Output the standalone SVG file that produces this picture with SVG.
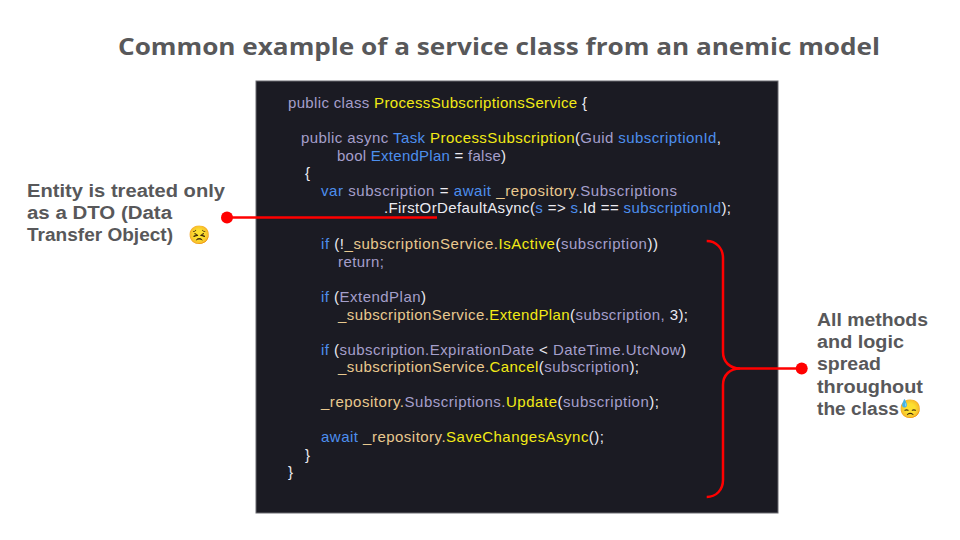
<svg xmlns="http://www.w3.org/2000/svg" width="960" height="540" viewBox="0 0 960 540">
<style>
.title{font-family:"Open Sans","Liberation Sans",sans-serif;font-weight:700;font-size:24px;fill:#58585a}
.note{font-family:"Liberation Sans",Arial,sans-serif;font-weight:700;font-size:18px;fill:#58585a}
.emo{font-family:"Noto Color Emoji","Liberation Sans",sans-serif;font-size:18px}
.code{font-family:"Liberation Sans",Arial,sans-serif;font-size:15px;fill:#ecebf2}
.k{fill:#a59fcb}.y{fill:#f2ea16}.b{fill:#4d8fee}.t{fill:#e9c98f}.w{fill:#ecebf2}
.red{stroke:#ff0000;stroke-width:2.5;fill:none}
</style>
<rect width="960" height="540" fill="#ffffff"/>
<text class="title" x="499" y="55" text-anchor="middle" textLength="762" lengthAdjust="spacingAndGlyphs">Common example of a service class from an anemic model</text>
<g id="code-panel">
<rect x="256" y="81" width="522" height="432" fill="#1b1b23" stroke="#6a6a70" stroke-width="1"/>
<g class="code">
<text x="288" y="108" textLength="299" lengthAdjust="spacing"><tspan class="k">public class </tspan><tspan class="y">ProcessSubscriptionsService</tspan><tspan> {</tspan></text>
<text x="301" y="143" textLength="420" lengthAdjust="spacing"><tspan class="k">public async </tspan><tspan class="b">Task</tspan> <tspan class="y">ProcessSubscription</tspan>(<tspan class="k">Guid </tspan><tspan class="b">subscriptionId</tspan>,</text>
<text x="337" y="161" textLength="169" lengthAdjust="spacing"><tspan class="k">bool </tspan><tspan class="b">ExtendPlan</tspan> = <tspan class="k">false</tspan>)</text>
<text x="305" y="178">{</text>
<text x="321" y="196" textLength="356" lengthAdjust="spacing"><tspan class="b">var</tspan><tspan class="k"> subscription </tspan>= <tspan class="b">await</tspan><tspan class="t"> _repository</tspan><tspan class="k">.Subscriptions</tspan></text>
<text x="384" y="213" textLength="347" lengthAdjust="spacing">.FirstOrDefaultAsync(<tspan class="b">s</tspan> =&gt; <tspan class="b">s</tspan>.Id == <tspan class="b">subscriptionId</tspan>);</text>
<text x="321" y="249" textLength="337" lengthAdjust="spacing"><tspan class="b">if</tspan> (!<tspan class="t">_subscriptionService.</tspan><tspan class="y">IsActive</tspan>(<tspan class="k">subscription</tspan>))</text>
<text x="338" y="267" textLength="46" lengthAdjust="spacing"><tspan class="k">return;</tspan></text>
<text x="321" y="302" textLength="105" lengthAdjust="spacing"><tspan class="b">if</tspan> (<tspan class="k">ExtendPlan</tspan>)</text>
<text x="338" y="319.5" textLength="350" lengthAdjust="spacing"><tspan class="t">_subscriptionService.</tspan><tspan class="y">ExtendPlan</tspan>(<tspan class="k">subscription, </tspan>3);</text>
<text x="321" y="355" textLength="365" lengthAdjust="spacing"><tspan class="b">if</tspan> (<tspan class="k">subscription.ExpirationDate</tspan> &lt; <tspan class="k">DateTime.UtcNow</tspan>)</text>
<text x="338" y="372" textLength="301" lengthAdjust="spacing"><tspan class="t">_subscriptionService.</tspan><tspan class="y">Cancel</tspan>(<tspan class="k">subscription</tspan>);</text>
<text x="321" y="407" textLength="338" lengthAdjust="spacing"><tspan class="t">_repository.</tspan><tspan class="k">Subscriptions.</tspan><tspan class="y">Update</tspan>(<tspan class="k">subscription</tspan>);</text>
<text x="321" y="442" textLength="283" lengthAdjust="spacing"><tspan class="b">await</tspan><tspan class="t"> _repository.</tspan><tspan class="y">SaveChangesAsync</tspan>();</text>
<text x="305" y="460">}</text>
<text x="288" y="477">}</text>
</g>
</g>
<g id="note-dto">
<text class="note" x="27" y="197" textLength="198" lengthAdjust="spacingAndGlyphs">Entity is treated only</text>
<text class="note" x="27" y="219" textLength="145" lengthAdjust="spacingAndGlyphs">as a DTO (Data</text>
<text class="note" x="27" y="241" textLength="146" lengthAdjust="spacingAndGlyphs">Transfer Object)</text>
<text class="emo" x="188" y="241">😣</text>
</g>
<g id="note-logic">
<text class="note" x="817" y="326" textLength="111" lengthAdjust="spacingAndGlyphs">All methods</text>
<text class="note" x="817" y="348" textLength="87" lengthAdjust="spacingAndGlyphs">and logic</text>
<text class="note" x="817" y="370" textLength="64" lengthAdjust="spacingAndGlyphs">spread</text>
<text class="note" x="817" y="393" textLength="106" lengthAdjust="spacingAndGlyphs">throughout</text>
<text class="note" x="817" y="415" textLength="82" lengthAdjust="spacingAndGlyphs">the class</text>
<text class="emo" x="899" y="415">😓</text>
</g>
<g id="connectors">
<line class="red" x1="227" y1="217.5" x2="437" y2="217.5"/>
<circle cx="227" cy="217.5" r="6" fill="#ff0000"/>
<path class="red" d="M706.7,241 C716,241 723,248 723,258 L723,352 C723,362 730,368.5 740,368.5 L800,368.5"/>
<path class="red" d="M740,368.5 C730,368.5 723,375 723,385 L723,480 C723,490 716,497 706.7,497"/>
<circle cx="801.7" cy="368.5" r="6" fill="#ff0000"/>
</g>
</svg>
